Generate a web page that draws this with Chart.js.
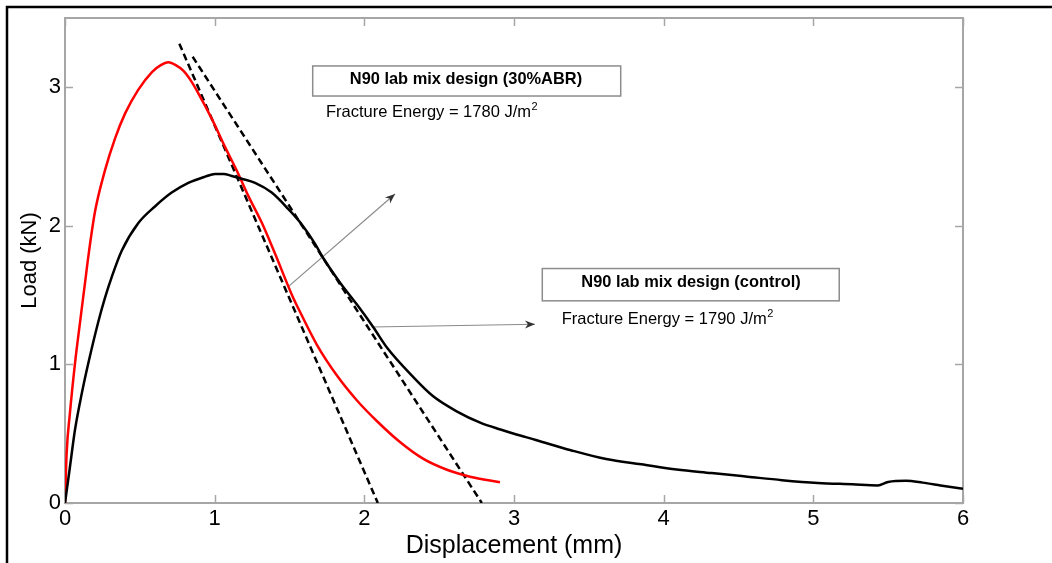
<!DOCTYPE html>
<html>
<head>
<meta charset="utf-8">
<script src="https://cdn.jsdelivr.net/npm/chart.js@4.4.1/dist/chart.umd.min.js"></script>
<style>
  html, body { margin: 0; padding: 0; background: #fff; }
  #wrap { width: 1052px; height: 563px; position: relative; }
</style>
</head>
<body>
<div id="wrap"><canvas id="myChart"></canvas></div>
<script>
// axis ticks
const xTicks = [0, 1, 2, 3, 4, 5, 6];
const yTicks = [0, 1, 2, 3];

// N90 lab mix design (30%ABR) - red
const abrX = [0, 0.011, 0.033, 0.067, 0.100, 0.134, 0.156, 0.200, 0.267, 0.334, 0.401, 0.488, 0.581, 0.640, 0.690, 0.740, 0.790, 0.840, 0.889, 0.982, 1.069, 1.156, 1.223, 1.316, 1.403, 1.517, 1.570, 1.684, 1.817, 1.951, 2.085, 2.238, 2.392, 2.552, 2.706, 2.906];
const abrY = [0, 0.36, 0.65, 1.01, 1.30, 1.59, 1.78, 2.10, 2.40, 2.63, 2.81, 2.98, 3.11, 3.16, 3.18, 3.16, 3.12, 3.05, 2.96, 2.77, 2.57, 2.38, 2.22, 2.02, 1.80, 1.50, 1.38, 1.14, 0.92, 0.74, 0.59, 0.44, 0.32, 0.24, 0.19, 0.15];

// N90 lab mix design (control) - black
const ctrlX = [0, 0.033, 0.067, 0.112, 0.156, 0.223, 0.267, 0.312, 0.379, 0.490, 0.601, 0.713, 0.824, 0.936, 1.003, 1.060, 1.114, 1.181, 1.270, 1.381, 1.493, 1.582, 1.671, 1.724, 1.838, 1.952, 2.059, 2.152, 2.326, 2.460, 2.620, 2.774, 2.91, 3.0, 3.146, 3.38, 3.616, 3.85, 4.087, 4.32, 4.56, 4.79, 5.03, 5.26, 5.43, 5.50, 5.62, 5.73, 5.85, 6.0];
const ctrlY = [0, 0.26, 0.53, 0.79, 1.01, 1.31, 1.48, 1.63, 1.82, 2.02, 2.14, 2.24, 2.31, 2.355, 2.375, 2.375, 2.36, 2.34, 2.31, 2.24, 2.12, 2.01, 1.87, 1.77, 1.59, 1.43, 1.27, 1.12, 0.91, 0.77, 0.66, 0.58, 0.53, 0.50, 0.455, 0.381, 0.317, 0.279, 0.241, 0.216, 0.19, 0.165, 0.145, 0.135, 0.127, 0.152, 0.160, 0.147, 0.127, 0.102];

// dashed tangent lines
const tan1X = [0.764, 2.09];
const tan1Y = [3.315, 0];
const tan2X = [0.853, 2.785];
const tan2Y = [3.22, 0];

// pointer arrows (start -> tip)
const arrow1X = [1.49, 2.205];
const arrow1Y = [1.56, 2.23];
const arrow2X = [2.05, 3.14];
const arrow2Y = [1.27, 1.29];

// annotation text
const labels = [
  { title: 'N90 lab mix design (30%ABR)', energy: 'Fracture Energy = 1780 J/m', box: [1.655, 3.713, 3.154, 2.937], titleAt: [2.679, 3.025], energyAt: [1.744, 2.786] },
  { title: 'N90 lab mix design (control)', energy: 'Fracture Energy = 1790 J/m', box: [3.189, 5.173, 1.692, 1.459], titleAt: [4.183, 1.560], energyAt: [3.319, 1.291] }
];

const pts = (xs, ys) => xs.map((v, i) => ({ x: v, y: ys[i] }));
const FONT = "'Liberation Sans', Arial, Helvetica, sans-serif";

const line = (data, color, width, dash, smooth) => ({
  data: data, borderColor: color, borderWidth: width, borderDash: dash || [],
  showLine: true, pointRadius: 0, fill: false,
  cubicInterpolationMode: smooth ? 'monotone' : 'default', tension: 0
});

const frame = {
  id: 'frame',
  beforeDatasetsDraw(chart) {
    const { ctx, chartArea: a, scales: { x, y } } = chart;
    ctx.save();
    // figure border (top + left)
    ctx.strokeStyle = '#000';
    ctx.lineWidth = 2.5;
    ctx.beginPath();
    ctx.moveTo(7, 563); ctx.lineTo(7, 7); ctx.lineTo(1052, 7);
    ctx.stroke();
    // axes box
    ctx.strokeStyle = '#a6a6a6';
    ctx.lineWidth = 2;
    ctx.strokeRect(a.left, a.top, a.right - a.left, a.bottom - a.top);
    // inward ticks on all four sides
    ctx.lineWidth = 1.5;
    ctx.beginPath();
    xTicks.forEach(v => {
      const px = Math.round(x.getPixelForValue(v)) + 0.5;
      ctx.moveTo(px, a.bottom); ctx.lineTo(px, a.bottom - 8);
      ctx.moveTo(px, a.top); ctx.lineTo(px, a.top + 8);
    });
    yTicks.forEach(v => {
      const py = Math.round(y.getPixelForValue(v)) + 0.5;
      ctx.moveTo(a.left, py); ctx.lineTo(a.left + 8, py);
      ctx.moveTo(a.right, py); ctx.lineTo(a.right - 8, py);
    });
    ctx.stroke();
    ctx.restore();
  },
  afterDatasetsDraw(chart) {
    const { ctx, scales: { x, y } } = chart;
    ctx.save();
    // arrowheads
    [[arrow1X, arrow1Y], [arrow2X, arrow2Y]].forEach(([ax, ay]) => {
      const x0 = x.getPixelForValue(ax[0]), y0 = y.getPixelForValue(ay[0]);
      const x1 = x.getPixelForValue(ax[1]), y1 = y.getPixelForValue(ay[1]);
      const ang = Math.atan2(y1 - y0, x1 - x0);
      ctx.save();
      ctx.translate(x1, y1);
      ctx.rotate(ang);
      ctx.fillStyle = '#333';
      ctx.beginPath();
      ctx.moveTo(0, 0); ctx.lineTo(-10, -4); ctx.lineTo(-7, 0); ctx.lineTo(-10, 4);
      ctx.closePath();
      ctx.fill();
      ctx.restore();
    });
    // text boxes
    labels.forEach(l => {
      const bx0 = x.getPixelForValue(l.box[0]), bx1 = x.getPixelForValue(l.box[1]);
      const by0 = y.getPixelForValue(l.box[2]), by1 = y.getPixelForValue(l.box[3]);
      ctx.fillStyle = '#fff';
      ctx.fillRect(bx0, by0, bx1 - bx0, by1 - by0);
      ctx.strokeStyle = '#8c8c8c';
      ctx.lineWidth = 1.5;
      ctx.strokeRect(bx0, by0, bx1 - bx0, by1 - by0);
      ctx.fillStyle = '#000';
      ctx.textBaseline = 'alphabetic';
      ctx.textAlign = 'center';
      ctx.font = 'bold 16.4px ' + FONT;
      ctx.fillText(l.title, x.getPixelForValue(l.titleAt[0]), y.getPixelForValue(l.titleAt[1]));
      ctx.textAlign = 'left';
      ctx.font = '16.5px ' + FONT;
      const ex = x.getPixelForValue(l.energyAt[0]), ey = y.getPixelForValue(l.energyAt[1]);
      ctx.fillText(l.energy, ex, ey);
      const w = ctx.measureText(l.energy).width;
      ctx.font = '11px ' + FONT;
      ctx.fillText('2', ex + w + 0.5, ey - 7);
    });
    ctx.restore();
  }
};

new Chart(document.getElementById('myChart'), {
  type: 'scatter',
  data: {
    datasets: [
      line(pts(ctrlX, ctrlY), '#000', 2.5, null, true),
      line(pts(abrX, abrY), '#ff0000', 2.5, null, true),
      line(pts(tan1X, tan1Y), '#000', 2.5, [7, 4]),
      line(pts(tan2X, tan2Y), '#000', 2.5, [7, 4]),
      line(pts(arrow1X, arrow1Y), '#8a8a8a', 1.2),
      line(pts(arrow2X, arrow2Y), '#8a8a8a', 1.2)
    ]
  },
  options: {
    responsive: true,
    maintainAspectRatio: false,
    animation: false,
    layout: { padding: { top: 18, right: 89, bottom: 0, left: 0 } },
    plugins: { legend: { display: false }, tooltip: { enabled: false } },
    scales: {
      x: {
        type: 'linear', min: 0, max: 6,
        afterBuildTicks: s => { s.ticks = xTicks.map(v => ({ value: v })); },
        afterFit: s => { s.height = 60; },
        grid: { display: false, drawTicks: false },
        border: { display: false },
        ticks: { color: '#000', padding: 3, font: { family: FONT, size: 22 }, maxRotation: 0 },
        title: { display: true, text: 'Displacement (mm)', color: '#000', font: { family: FONT, size: 25 }, padding: { top: 0, bottom: 2 } }
      },
      y: {
        type: 'linear', min: 0, max: 3.5,
        afterBuildTicks: s => { s.ticks = yTicks.map(v => ({ value: v })); },
        afterFit: s => { s.width = 65; },
        grid: { display: false, drawTicks: false },
        border: { display: false },
        ticks: { color: '#000', padding: 4, font: { family: FONT, size: 22 } },
        title: { display: true, text: 'Load (kN)', color: '#000', font: { family: FONT, size: 22 }, padding: { top: 17, bottom: 0 } }
      }
    }
  },
  plugins: [frame]
});
</script>
</body>
</html>
